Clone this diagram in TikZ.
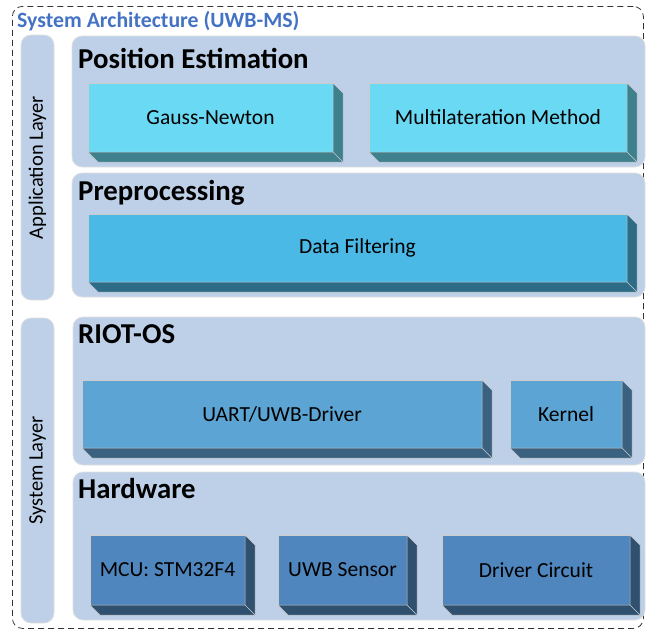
\documentclass[tikz,border=0pt]{standalone}
\usepackage{fontspec}
\setmainfont{Carlito}
\usepackage{tikz}
\usetikzlibrary{calc,positioning}
\usepackage{xcolor}
\definecolor{panelblue}{RGB}{189,208,232}
\definecolor{titleblue}{RGB}{68,114,196}
\definecolor{cyanfront}{RGB}{106,217,243}
\definecolor{cyanside}{RGB}{63,128,141}
\definecolor{skyfront}{RGB}{74,185,229}
\definecolor{skyside}{RGB}{44,108,134}
\definecolor{midfront}{RGB}{91,164,211}
\definecolor{midside}{RGB}{58,97,127}
\definecolor{deepfront}{RGB}{79,134,189}
\definecolor{deepside}{RGB}{47,80,111}
\tikzset{
    panel/.style={draw=gray!25, line width=0.8pt, rounded corners=10pt,
                  fill=panelblue, anchor=north west, inner sep=0pt,
                  outer sep=0pt},
    layerstrip/.style={draw=gray!25, line width=0.8pt, rounded corners=10pt,
                       fill=panelblue, inner sep=0pt, outer sep=0pt,
                       minimum width=33pt},
    ptitle/.style={anchor=base west, inner sep=0pt, font=\fontsize{28.8}{32}\selectfont\bfseries},
    block/.style={draw=gray!40, line width=0.8pt, fill=#1, inner sep=0pt,
                  outer sep=0pt, font=\fontsize{21.5}{24}\selectfont},
    vlabel/.style={rotate=90, font=\fontsize{20.5}{24}\selectfont},
}
% dark side and bottom faces behind a block
\newcommand{\blockdepth}[2]{%
    \filldraw[fill=#2, draw=gray!40, line width=0.5pt]
        (#1.north east) -- ++(10,10) -- ($(#1.south east)+(10,10)$)
        -- ($(#1.south west)+(10,10)$) -- (#1.south west)
        -- (#1.south east) -- cycle;
    \draw[gray!40, line width=0.5pt] (#1.south east) -- ++(10,10);}
\begin{document}
\begin{tikzpicture}[x=1pt, y=-1pt]
    \useasboundingbox (0,0) rectangle (646,630);
    % outer frame
    \node[draw=black!80, line width=0.8pt, dash pattern=on 6pt off 4pt,
          rounded corners=10pt, anchor=north west, inner sep=0pt,
          minimum width=631pt, minimum height=622pt] (frame) at (12,6) {};
    \node[anchor=base west, inner sep=0pt, text=titleblue,
          font=\fontsize{21.8}{24}\selectfont\bfseries] (sysarch) at (17,27)
        {System Architecture (UWB-MS)};

    % layer strips
    \node[layerstrip, minimum height=265pt] (applayer) at (37.5,167.5) {};
    \node[vlabel] at (applayer.center) {Application Layer};
    \node[layerstrip, minimum height=305pt] (syslayer) at (37.5,470.5) {};
    \node[vlabel] at (syslayer.center) {System Layer};

    % application layer
    \node[panel, minimum width=573pt, minimum height=131pt] (posest) at (72,36) {};
    \node[ptitle] at (78,68) {Position Estimation};
    \node[block=cyanfront, minimum width=245pt, minimum height=69pt] (gauss) at (210.5,117.5) {Gauss-Newton};
    \node[block=cyanfront, minimum width=258pt, minimum height=69pt] (multilat) at (498,117.5) {Multilateration Method};
    \blockdepth{gauss}{cyanside}
    \blockdepth{multilat}{cyanside}

    \node[panel, minimum width=573pt, minimum height=124pt] (preproc) at (72,173) {};
    \node[ptitle] at (78,200) {Preprocessing};
    \node[block=skyfront, minimum width=539pt, minimum height=68pt] (filter) at (357.5,248) {Data Filtering};
    \blockdepth{filter}{skyside}

    % system layer
    \node[panel, minimum width=572pt, minimum height=148pt] (riot) at (73,317) {};
    \node[ptitle] at (78,343) {RIOT-OS};
    \node[block=midfront, minimum width=400pt, minimum height=68pt] (driver) at (282,414) {UART/UWB-Driver};
    \node[block=midfront, minimum width=112pt, minimum height=68pt] (kernel) at (566,414) {Kernel};
    \blockdepth{driver}{midside}
    \blockdepth{kernel}{midside}

    \node[panel, minimum width=572pt, minimum height=148pt] (hardware) at (73,472) {};
    \node[ptitle] at (78,498) {Hardware};
    \node[block=deepfront, minimum width=155pt, minimum height=70pt] (mcu) at (167.5,570) {MCU: STM32F4};
    \node[block=deepfront, minimum width=129pt, minimum height=70pt] (uwb) at (342.5,570) {UWB Sensor};
    \node[block=deepfront, minimum width=188pt, minimum height=70pt] (circuit) at (536,570) {Driver Circuit};
    \blockdepth{mcu}{deepside}
    \blockdepth{uwb}{deepside}
    \blockdepth{circuit}{deepside}
\end{tikzpicture}
\end{document}
